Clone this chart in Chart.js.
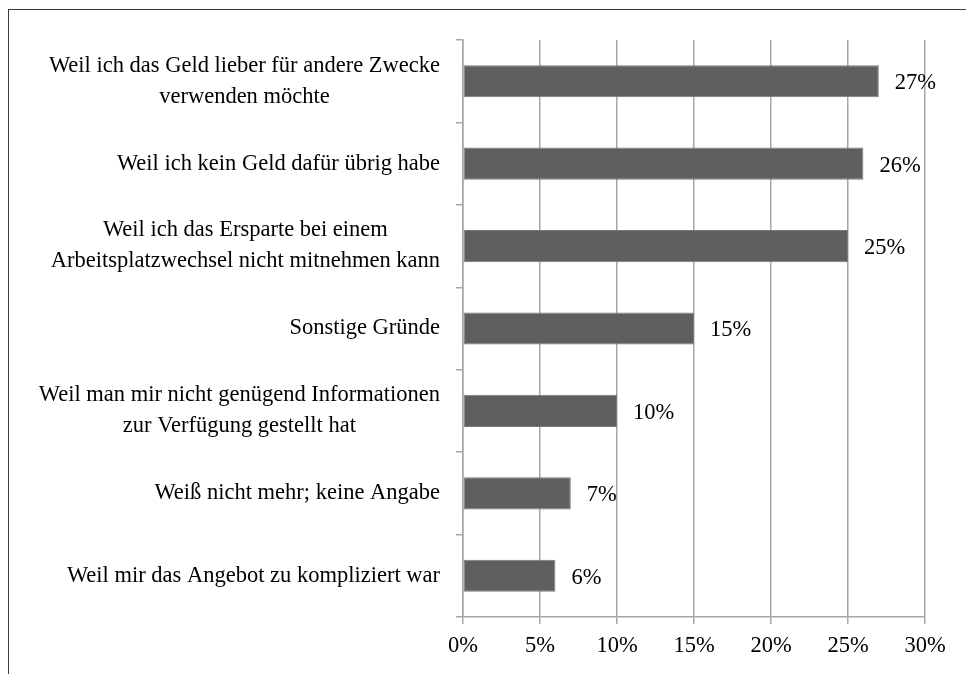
<!DOCTYPE html>
<html>
<head>
<meta charset="utf-8">
<script src="https://cdn.jsdelivr.net/npm/chart.js@4.4.0/dist/chart.umd.min.js"></script>
<style>
  html, body { margin: 0; padding: 0; background: #fff; }
  #wrap { position: relative; width: 966px; height: 674px; overflow: hidden; }
  #frame {
    position: absolute; left: 8px; top: 9px; width: 1000px; height: 700px;
    border-top: 1.5px solid #3a3a3a; border-left: 1.5px solid #3a3a3a;
  }
  canvas { position: absolute; left: 0; top: 0; }
</style>
</head>
<body>
<div id="wrap">
  <div id="frame"></div>
  <canvas id="chart" width="966" height="674"></canvas>
</div>
<script>
// Reasons (top to bottom) and share of answers in percent
const reasons = [
  ["Weil ich das Geld lieber für andere Zwecke", "verwenden möchte"],
  ["Weil ich kein Geld dafür übrig habe"],
  ["Weil ich das Ersparte bei einem", "Arbeitsplatzwechsel nicht mitnehmen kann"],
  ["Sonstige Gründe"],
  ["Weil man mir nicht genügend Informationen", "zur Verfügung gestellt hat"],
  ["Weiß nicht mehr; keine Angabe"],
  ["Weil mir das Angebot zu kompliziert war"],
];
const shares = [27, 26, 25, 15, 10, 7, 6];
const xTicks = [0, 5, 10, 15, 20, 25, 30];

const serif = '"Liberation Serif", "DejaVu Serif", serif';
const fontSize = 22.5;

// Category labels: block right-aligned at the axis, lines centered inside the block
const categoryLabels = {
  id: "categoryLabels",
  afterDraw(chart) {
    const ctx = chart.ctx;
    const yScale = chart.scales.y;
    const right = chart.chartArea.left - 23;
    const lineH = 31;
    ctx.save();
    ctx.font = fontSize + "px " + serif;
    ctx.fillStyle = "#000";
    ctx.textAlign = "center";
    ctx.textBaseline = "middle";
    reasons.forEach((lines, i) => {
      const widest = Math.max(...lines.map((l) => ctx.measureText(l).width));
      const cx = right - widest / 2;
      const cy = yScale.getPixelForValue(i);
      const start = cy - ((lines.length - 1) * lineH) / 2;
      lines.forEach((l, j) => ctx.fillText(l, cx, start + j * lineH));
    });
    ctx.restore();
  },
};

// Value labels to the right of each bar
const valueLabels = {
  id: "valueLabels",
  afterDatasetsDraw(chart) {
    const ctx = chart.ctx;
    const meta = chart.getDatasetMeta(0);
    ctx.save();
    ctx.font = fontSize + "px " + serif;
    ctx.fillStyle = "#000";
    ctx.textAlign = "left";
    ctx.textBaseline = "middle";
    meta.data.forEach((bar, i) => {
      ctx.fillText(shares[i] + "%", bar.x + 16, bar.y + 2);
    });
    ctx.restore();
  },
};

const ctx = document.getElementById("chart").getContext("2d");
new Chart(ctx, {
  type: "bar",
  data: {
    labels: reasons,
    datasets: [
      {
        data: shares,
        backgroundColor: "#5f5f5f",
        borderColor: "#7a7a7a",
        borderWidth: 1,
        borderSkipped: false,
        categoryPercentage: 1,
        barPercentage: 0.39,
      },
    ],
  },
  options: {
    indexAxis: "y",
    responsive: false,
    animation: false,
    devicePixelRatio: 1,
    layout: { padding: { top: 40, right: 41, left: 0, bottom: 0 } },
    plugins: {
      legend: { display: false },
      tooltip: { enabled: false },
    },
    scales: {
      x: {
        min: 0,
        max: 30,
        afterBuildTicks: (scale) => {
          scale.ticks = xTicks.map((v) => ({ value: v }));
        },
        afterFit: (scale) => {
          scale.height = 57;
        },
        ticks: {
          callback: (v) => v + "%",
          color: "#000",
          padding: 9,
          font: { family: serif, size: fontSize },
          maxRotation: 0,
        },
        grid: {
          color: "#a6a6a6",
          lineWidth: 1.5,
          tickLength: 7,
          drawTicks: true,
        },
        border: { color: "#a6a6a6", width: 1.5 },
      },
      y: {
        afterFit: (scale) => {
          scale.width = 463;
        },
        ticks: { display: false },
        grid: {
          drawOnChartArea: false,
          color: "#a6a6a6",
          lineWidth: 1.5,
          tickLength: 7,
          offset: true,
        },
        border: { color: "#a6a6a6", width: 1.5 },
      },
    },
  },
  plugins: [categoryLabels, valueLabels],
});
</script>
</body>
</html>
